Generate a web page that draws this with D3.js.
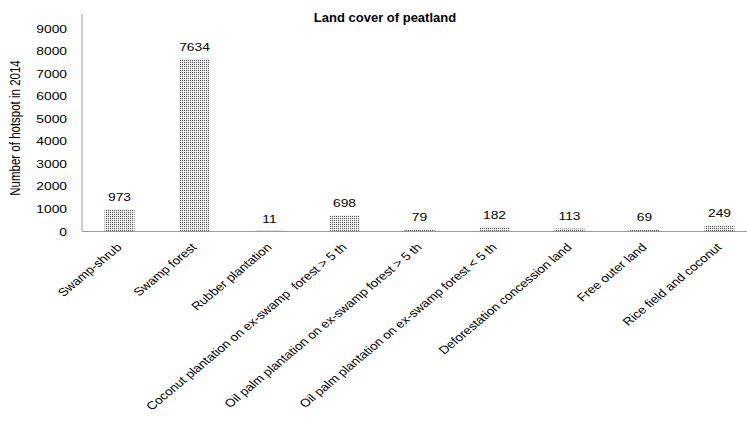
<!DOCTYPE html>
<html>
<head>
<meta charset="utf-8">
<script src="https://cdn.jsdelivr.net/npm/d3@7"></script>
<style>
  html, body { margin: 0; padding: 0; background: #fff; }
  svg { display: block; }
  text { font-family: "Liberation Sans", Arial, sans-serif; fill: #000; }
</style>
</head>
<body>
<svg id="chart" width="747" height="421"></svg>
<script>
const categories = [
  "Swamp-shrub",
  "Swamp forest",
  "Rubber plantation",
  "Coconut plantation on ex-swamp  forest > 5 th",
  "Oil palm plantation on ex-swamp forest > 5 th",
  "Oil palm plantation on ex-swamp forest < 5 th",
  "Deforestation concession land",
  "Free outer land",
  "Rice field and coconut"
];
const hotspots = [973, 7634, 11, 698, 79, 182, 113, 69, 249];
const yTicks = [0, 1000, 2000, 3000, 4000, 5000, 6000, 7000, 8000, 9000];
const chartTitle = "Land cover of peatland";
const yTitle = "Number of hotspot in 2014";

const W = 747, H = 421;
const SX = 1.2; // horizontal stretch of the original picture
const axisX = 82, baseY = 231, topY = 28;

const svg = d3.select("#chart");
svg.append("rect").attr("width", W).attr("height", H).attr("fill", "#fff");

const defs = svg.append("defs");
const pat = defs.append("pattern").attr("id", "dots")
  .attr("patternUnits", "userSpaceOnUse").attr("width", 2).attr("height", 2);
pat.append("rect").attr("width", 2).attr("height", 2).attr("fill", "#eeeeee");
pat.append("rect").attr("width", 1).attr("height", 1).attr("fill", "#555");

const x = d3.scaleBand().domain(categories)
  .range([axisX, axisX + 75 * categories.length])
  .paddingInner(0.6).paddingOuter(0.3);
const y = d3.scaleLinear().domain([0, 9000]).range([baseY, topY]);

// bars
svg.append("g").selectAll("rect").data(categories).join("rect")
  .attr("x", d => x(d))
  .attr("width", x.bandwidth())
  .attr("y", (d, i) => y(hotspots[i]))
  .attr("height", (d, i) => y(0) - y(hotspots[i]))
  .attr("fill", "url(#dots)");

// axes lines
svg.append("line").attr("x1", axisX).attr("x2", axisX)
  .attr("y1", topY - 14).attr("y2", baseY)
  .attr("stroke", "#999").attr("stroke-width", 1);
svg.append("line").attr("x1", axisX).attr("x2", W)
  .attr("y1", baseY + 0.5).attr("y2", baseY + 0.5)
  .attr("stroke", "#999").attr("stroke-width", 1);

// y tick labels
svg.append("g").selectAll("text").data(yTicks).join("text")
  .attr("transform", d => `translate(${axisX - 15},${y(d) + 4.5}) scale(${SX},1)`)
  .attr("text-anchor", "end")
  .attr("font-size", 11.5)
  .text(d => d);

// value labels
svg.append("g").selectAll("text").data(categories).join("text")
  .attr("transform", (d, i) => `translate(${x(d) + x.bandwidth() / 2},${y(hotspots[i]) - 8}) scale(${SX},1)`)
  .attr("text-anchor", "middle")
  .attr("font-size", 11.5)
  .text((d, i) => hotspots[i]);

// x labels
svg.append("g").selectAll("text").data(categories).join("text")
  .attr("transform", d => `translate(${x(d) + x.bandwidth() / 2 + 3},${baseY + 17}) scale(${SX},1) rotate(-45)`)
  .attr("text-anchor", "end")
  .attr("font-size", 11.3)
  .style("white-space", "pre")
  .text(d => d);

// title
svg.append("text")
  .attr("transform", `translate(385,22)`)
  .attr("text-anchor", "middle")
  .attr("font-size", 13)
  .attr("font-weight", "bold")
  .text(chartTitle);

// y title
svg.append("text")
  .attr("transform", `translate(20,128) scale(${SX},1) rotate(-90)`)
  .attr("text-anchor", "middle")
  .attr("font-size", 11.5)
  .text(yTitle);
</script>
</body>
</html>
